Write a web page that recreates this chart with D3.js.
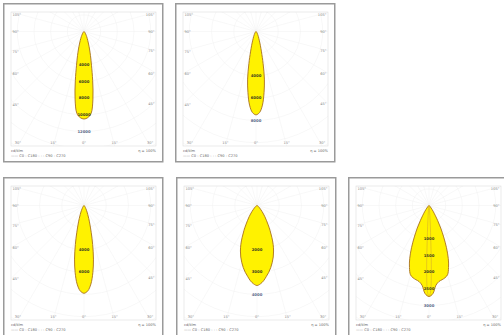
<!DOCTYPE html>
<html>
<head>
<meta charset="utf-8">
<script src="https://cdn.jsdelivr.net/npm/d3@7"></script>
<style>
  body { margin: 0; background: #fff; }
  svg { display: block; font-family: "DejaVu Sans", sans-serif; }
</style>
</head>
<body>
<script>
// gamma angles (deg) of the measured half plane, mirrored for the other side
var angles = [0, 2.5, 5, 7.5, 10, 12.5, 15, 17.5, 20, 22.5, 25, 27.5, 30, 35, 40, 50, 60, 70, 80, 90];

// luminous intensity, cd/klm, C0-C180 plane
var lum1 = [10500, 10350, 9850, 8200, 6000, 4150, 3000, 2200, 1600, 1200, 900, 700, 550, 330, 200, 80, 30, 10, 0, 0];
var lum2 = [7500, 7300, 6650, 5550, 4350, 2950, 1900, 1300, 900, 650, 500, 380, 300, 190, 120, 50, 20, 0, 0, 0];
var lum3 = [7900, 7700, 7100, 6100, 4900, 3600, 2500, 1750, 1250, 900, 650, 480, 350, 210, 120, 50, 20, 0, 0, 0];
var lum4 = [3600, 3530, 3400, 3220, 3050, 2860, 2650, 2430, 2180, 1900, 1580, 1280, 1000, 620, 350, 120, 40, 10, 0, 0];
var lum5 = [2730, 2650, 2400, 2300, 2260, 2220, 2150, 1950, 1690, 1370, 1040, 760, 510, 230, 100, 30, 10, 0, 0, 0];

// narrow C90-C270 spike of the last luminaire
var spikeAngles = [0, 1, 2, 3, 5, 10, 20, 90];
var spike5 = [2730, 2600, 2000, 1000, 300, 50, 0, 0];

// ring labels shown on the 0 deg axis
var rings1 = [4000, 6000, 8000, 10000, 12000];
var rings2 = [4000, 6000, 8000];
var rings3 = [4000, 6000];
var rings4 = [2000, 3000, 4000];
var rings5 = [1000, 1500, 2000, 2500, 3000];

var gridAngles = [-105, -90, -75, -60, -45, -30, -15, 0, 15, 30, 45, 60, 75, 90, 105];

var panels = [
  {x: 3,   y: 3,   lum: lum1, step: 2000, max: 12000, rings: rings1},
  {x: 175, y: 3,   lum: lum2, step: 2000, max: 9000,  rings: rings2},
  {x: 3,   y: 177, lum: lum3, step: 2000, max: 9000,  rings: rings3},
  {x: 176, y: 177, lum: lum4, step: 1000, max: 4500,  rings: rings4},
  {x: 348, y: 177, lum: lum5, step: 500,  max: 3000,  rings: rings5, spike: spike5}
];

var W = 504, H = 335;
var pw = 159, ph = 158;
var fx0 = 8, fx1 = 153, fy0 = 9, fy1 = 143;   // plot frame inside a panel
var cx = 81, oy = 28.5;                        // polar origin
var R = 100;                                   // px for scale max

var svg = d3.select("body").append("svg")
  .attr("width", W)
  .attr("height", H);

svg.append("defs").append("clipPath")
  .attr("id", "frameClip")
  .append("rect")
  .attr("x", fx0).attr("y", fy0)
  .attr("width", fx1 - fx0).attr("height", fy1 - fy0);

function halfToFull(ang, vals){
  var pts = [];
  for (var i = ang.length - 1; i > 0; i--) pts.push({a: -ang[i], v: vals[i]});
  for (var j = 0; j < ang.length; j++) pts.push({a: ang[j], v: vals[j]});
  return pts;
}

// where a ray from the origin leaves the frame
function edgePoint(deg){
  var t = deg * Math.PI / 180;
  var dx = Math.sin(t), dy = Math.cos(t);
  var best = 1e9;
  if (dx < -1e-6) best = Math.min(best, (fx0 - cx) / dx);
  if (dx > 1e-6) best = Math.min(best, (fx1 - cx) / dx);
  if (dy > 1e-6) best = Math.min(best, (fy1 - oy) / dy);
  if (dy < -1e-6) best = Math.min(best, (fy0 - oy) / dy);
  return [cx + dx * best, oy + dy * best];
}

panels.forEach(function(p){
  var g = svg.append("g").attr("transform", "translate(" + p.x + "," + p.y + ")");

  var r = d3.scaleLinear().domain([0, p.max]).range([0, R]);

  g.append("rect")
    .attr("x", 0.75).attr("y", 0.75)
    .attr("width", pw).attr("height", ph)
    .attr("fill", "#fff")
    .attr("stroke", "#9a9a9a")
    .attr("stroke-width", 1.5);

  var grid = g.append("g").attr("clip-path", "url(#frameClip)");

  // rings
  d3.range(1, 12).forEach(function(k){
    grid.append("circle")
      .attr("cx", cx).attr("cy", oy)
      .attr("r", r(k * p.step))
      .attr("fill", "none")
      .attr("stroke", "#f0f0f0")
      .attr("stroke-width", 0.5);
  });

  // rays every 15 deg
  d3.range(-180, 180, 15).forEach(function(a){
    var t = a * Math.PI / 180;
    grid.append("line")
      .attr("x1", cx).attr("y1", oy)
      .attr("x2", cx + Math.sin(t) * 300)
      .attr("y2", oy + Math.cos(t) * 300)
      .attr("stroke", "#f0f0f0")
      .attr("stroke-width", 0.5);
  });

  g.append("rect")
    .attr("x", fx0).attr("y", fy0)
    .attr("width", fx1 - fx0).attr("height", fy1 - fy0)
    .attr("fill", "none")
    .attr("stroke", "#dcdcdc")
    .attr("stroke-width", 0.6);

  // angle labels along the frame
  gridAngles.forEach(function(a){
    var e = edgePoint(a);
    var x = e[0], y = e[1], anchor = "middle";
    if (x <= fx0 + 0.5) { x = fx0 + 1.5; anchor = "start"; }
    else if (x >= fx1 - 0.5) { x = fx1 - 1.5; anchor = "end"; }
    if (y >= fy1 - 0.5) y = fy1 - 2;
    else if (y <= fy0 + 0.5) y = fy0 + 4;
    else y = y + 1.5;
    g.append("text")
      .attr("x", x).attr("y", y)
      .attr("text-anchor", anchor)
      .attr("font-size", 3.6)
      .attr("fill", "#8a8a8a")
      .text(Math.abs(a) + "°");
  });

  var plot = g.append("g").attr("transform", "translate(" + cx + "," + oy + ")");

  var line = d3.lineRadial()
    .angle(function(d){ return Math.PI - d.a * Math.PI / 180; })
    .radius(function(d){ return r(d.v); })
    .curve(d3.curveCatmullRomClosed);

  plot.append("path")
    .datum(halfToFull(angles, p.lum))
    .attr("d", line)
    .attr("fill", "#fff200")
    .attr("stroke", "#a8701e")
    .attr("stroke-width", 0.9);

  if (p.spike){
    plot.append("path")
      .datum(halfToFull(spikeAngles, p.spike))
      .attr("d", line)
      .attr("fill", "none")
      .attr("stroke", "#d0a030")
      .attr("stroke-width", 0.5);
  }

  // ring values on the 0 deg axis
  p.rings.forEach(function(v){
    plot.append("text")
      .attr("x", 0).attr("y", r(v) + 1.3)
      .attr("text-anchor", "middle")
      .attr("font-size", 3.8)
      .attr("font-weight", "bold")
      .attr("fill", v > p.lum[0] ? "#5a6a8a" : "#3a3a20")
      .text(v);
  });

  // legend
  g.append("text")
    .attr("x", fx0).attr("y", 148.5)
    .attr("font-size", 3.6).attr("fill", "#666")
    .text("cd/klm");
  g.append("text")
    .attr("x", fx0).attr("y", 153.5)
    .attr("font-size", 3.6).attr("fill", "#666")
    .text("—— C0 - C180    - - - C90 - C270");
  g.append("text")
    .attr("x", fx1).attr("y", 148.5)
    .attr("text-anchor", "end")
    .attr("font-size", 3.6).attr("fill", "#666")
    .text("η = 100%");
});
</script>
</body>
</html>
